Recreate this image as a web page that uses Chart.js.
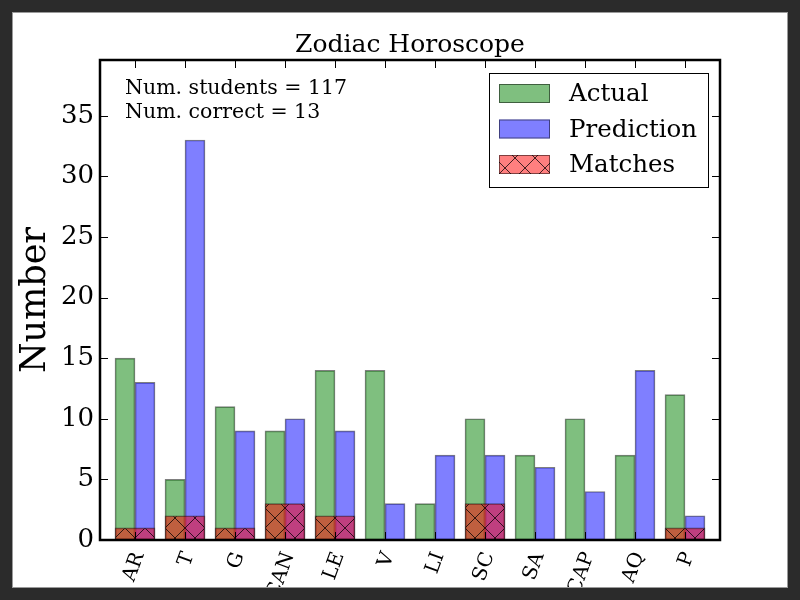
<!DOCTYPE html>
<html>
<head>
<meta charset="utf-8">
<title>Zodiac Horoscope</title>
<script src="https://cdn.jsdelivr.net/npm/chart.js@4.4.0/dist/chart.umd.min.js"></script>
<style>
  html, body { margin: 0; padding: 0; background: #2b2b2b; }
  #frame { position: absolute; left: 12px; top: 12px; width: 774px; height: 574px; border: 1px solid #9a9a9a; overflow: hidden; background: #fff; }
  #wrap { position: absolute; left: -13px; top: -13px; width: 800px; height: 600px; }
</style>
</head>
<body>
<div id="frame"><div id="wrap"><canvas id="zodiac" width="800" height="600"></canvas></div></div>
<script>
// zodiac signs
const signs = ['AR', 'T', 'G', 'CAN', 'LE', 'V', 'LI', 'SC', 'SA', 'CAP', 'AQ', 'P'];
const actual = [15, 5, 11, 9, 14, 14, 3, 10, 7, 10, 7, 12];
const prediction = [13, 33, 9, 10, 9, 3, 7, 7, 6, 4, 14, 2];
const matches = [1, 2, 1, 3, 2, 0, 0, 3, 0, 0, 0, 1];
const yTicks = [0, 5, 10, 15, 20, 25, 30, 35];

const SERIF = "'DejaVu Serif', 'Liberation Serif', serif";
Chart.defaults.font.family = SERIF;
Chart.defaults.color = '#000';

// red 'x' hatch like matplotlib
function makeHatch() {
  const c = document.createElement('canvas');
  c.width = 20; c.height = 20;
  const g = c.getContext('2d');
  g.fillStyle = 'rgba(255,0,0,0.5)';
  g.fillRect(0, 0, 20, 20);
  g.strokeStyle = 'rgba(0,0,0,0.75)';
  g.lineWidth = 1;
  g.beginPath();
  g.moveTo(0, 0); g.lineTo(20, 20);
  g.moveTo(0, 20); g.lineTo(20, 0);
  g.stroke();
  const p = document.getElementById('zodiac').getContext('2d').createPattern(c, 'repeat');
  p.setTransform(new DOMMatrix([1, 0, 0, 1, 5, 8]));
  return p;
}
const hatch = makeHatch();

const edge = 'rgba(0,0,0,0.5)';
const total = actual.reduce((s, v) => s + v, 0);
const correct = matches.reduce((s, v) => s + v, 0);

const decor = {
  id: 'decor',
  afterDatasetsDraw(chart) {
    const { ctx, chartArea: a, scales: { x, y } } = chart;
    ctx.save();
    ctx.strokeStyle = '#000';
    ctx.lineWidth = 1;

    // inward ticks on all four sides
    ctx.beginPath();
    signs.forEach((_, i) => {
      const px = Math.round(x.getPixelForValue(i)) + 0.5;
      ctx.moveTo(px, a.top); ctx.lineTo(px, a.top + 8);
      ctx.moveTo(px, a.bottom); ctx.lineTo(px, a.bottom - 8);
    });
    yTicks.forEach(v => {
      const py = Math.round(y.getPixelForValue(v)) + 0.5;
      ctx.moveTo(a.left, py); ctx.lineTo(a.left + 8, py);
      ctx.moveTo(a.right, py); ctx.lineTo(a.right - 8, py);
    });
    ctx.stroke();

    ctx.lineWidth = 2.5;
    ctx.strokeRect(a.left, a.top, a.right - a.left, a.bottom - a.top);

    // counts in the top left
    ctx.fillStyle = '#000';
    ctx.font = '20.5px ' + SERIF;
    ctx.textAlign = 'left';
    ctx.textBaseline = 'alphabetic';
    ctx.fillText('Num. students = ' + total, a.left + 25, a.top + 34);
    ctx.fillText('Num. correct = ' + correct, a.left + 25, a.top + 58);

    // legend box, top right
    const lx = a.right - 231, ly = a.top + 13, lw = 219, lh = 114;
    ctx.fillStyle = '#fff';
    ctx.fillRect(lx, ly, lw, lh);
    ctx.lineWidth = 1;
    ctx.strokeStyle = '#000';
    ctx.strokeRect(lx + 0.5, ly + 0.5, lw, lh);
    ctx.font = '24.5px ' + SERIF;
    ctx.textBaseline = 'middle';
    chart.data.datasets.forEach((ds, k) => {
      const cy = ly + 20 + k * 35.5;
      ctx.fillStyle = ds.backgroundColor;
      ctx.fillRect(lx + 10, cy - 9, 51, 19);
      ctx.strokeStyle = edge;
      ctx.strokeRect(lx + 10.5, cy - 8.5, 50, 18);
      ctx.fillStyle = '#000';
      ctx.fillText(ds.label, lx + 80, cy + 2);
    });
    ctx.restore();
  }
};

new Chart(document.getElementById('zodiac'), {
  type: 'bar',
  data: {
    datasets: [
      {
        label: 'Actual',
        data: actual.map((v, i) => ({ x: i - 0.2, y: v })),
        backgroundColor: 'rgba(0,128,0,0.5)',
        order: 3
      },
      {
        label: 'Prediction',
        data: prediction.map((v, i) => ({ x: i + 0.2, y: v })),
        backgroundColor: 'rgba(0,0,255,0.5)',
        order: 2
      },
      {
        label: 'Matches',
        data: matches.map((v, i) => ({ x: i, y: v })),
        backgroundColor: hatch,
        barThickness: 40,
        order: 1
      }
    ]
  },
  options: {
    responsive: false,
    animation: false,
    events: [],
    layout: { padding: { left: 0, right: 80, top: 0, bottom: 0 } },
    datasets: {
      bar: { barThickness: 20, grouped: false, borderColor: edge, borderWidth: 1, borderSkipped: false }
    },
    plugins: {
      legend: { display: false },
      tooltip: { enabled: false },
      title: {
        display: true,
        text: 'Zodiac Horoscope',
        fullSize: false,
        color: '#000',
        font: { size: 25, weight: 'normal', family: SERIF },
        padding: { top: 30, bottom: 0 }
      }
    },
    scales: {
      x: {
        type: 'linear',
        min: -0.7,
        max: 11.7,
        offset: false,
        grid: { display: false, drawTicks: false },
        border: { display: false },
        afterBuildTicks: s => { s.ticks = signs.map((_, i) => ({ value: i })); },
        afterFit: s => { s.height = 60; },
        ticks: {
          autoSkip: false,
          minRotation: 70,
          maxRotation: 70,
          padding: 9,
          labelOffset: 4,
          font: { size: 20 },
          callback: v => signs[v]
        }
      },
      y: {
        min: 0,
        max: 39.6,
        grid: { display: false, drawTicks: false },
        border: { display: false },
        afterBuildTicks: s => { s.ticks = yTicks.map(v => ({ value: v })); },
        afterFit: s => { s.width = 100; },
        ticks: { padding: 6, font: { size: 26 } },
        title: {
          display: true,
          text: 'Number',
          font: { size: 35 },
          padding: { top: 15, bottom: 0 }
        }
      }
    }
  },
  plugins: [decor]
});
</script>
</body>
</html>
